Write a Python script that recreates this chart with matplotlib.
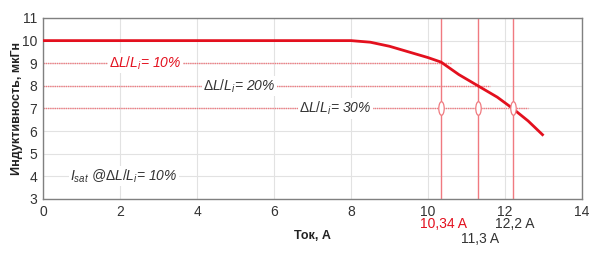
import matplotlib
matplotlib.use("Agg")
import matplotlib.pyplot as plt
from matplotlib.path import Path
from matplotlib.transforms import Affine2D

plt.rcParams['font.family'] = ['Liberation Sans', 'DejaVu Sans']
plt.rcParams['mathtext.fontset'] = 'custom'
plt.rcParams['mathtext.rm'] = 'Liberation Sans'
plt.rcParams['mathtext.it'] = 'Liberation Sans:italic'

# Data
curve_x = [0, 2, 4, 6, 8, 8.5, 9, 9.5, 10, 10.34, 10.8, 11.3, 11.8, 12.2, 12.6, 13]
curve_y = [10, 10, 10, 10, 10, 9.93, 9.75, 9.5, 9.25, 9.05, 8.5, 8.0, 7.5, 7.0, 6.45, 5.8]
levels = [9, 8, 7]
level_ends = [10.6, 11.6, 12.6]
sat_currents = [10.34, 11.3, 12.2]
sat_labels = ['10,34 A', '11,3 A', '12,2 A']
level_labels = ['$ΔL/L_i$= 10%', '$ΔL/L_i$= 20%', '$ΔL/L_i$= 30%']
level_label_x = [2.65, 5.1, 7.6]

red = '#e3101e'
light = '#f07a80'

fig = plt.figure(figsize=(6, 2.57), dpi=100)
ax = fig.add_axes([0.0717, 0.2257, 0.8983, 0.7043])
ax.set_xlim(0, 14)
ax.set_ylim(3, 11)
ax.set_xticks(range(0, 15, 2))
ax.set_yticks(range(3, 12))
ax.grid(True, color='#e2e2e2', linewidth=0.8)
ax.set_axisbelow(True)
for s in ax.spines.values():
    s.set_color('#808080')
    s.set_linewidth(1.0)
ax.tick_params(length=0, labelsize=10, colors='#333333', pad=4)

for lv, xe in zip(levels, level_ends):
    ax.plot([0, xe], [lv, lv], color=light, linestyle=(0, (1, 0.6)), linewidth=1.0, zorder=2)
for xc in sat_currents:
    ax.axvline(xc, color=light, linewidth=1.0, zorder=2)

ax.plot(curve_x, curve_y, color=red, linewidth=2.0, zorder=4, solid_capstyle='butt')

ell = Path.unit_circle().transformed(Affine2D().scale(0.4, 1.0))
ax.scatter(sat_currents, [7] * 3, marker=ell, s=95, facecolor='white', edgecolor=light, linewidth=0.9, zorder=5)

bbox = dict(facecolor='white', edgecolor='none', pad=1)
cols = [red, '#333333', '#333333']
for lx, lv, lt, c in zip(level_label_x, levels, level_labels, cols):
    ax.text(lx, lv, lt, color=c, fontsize=10, style='italic', ha='center', va='center', bbox=bbox, zorder=3)
ax.text(2.1, 4, '$I_{sat}$ @$ΔL/L_i$= 10%', color='#333333', fontsize=10, style='italic',
        ha='center', va='center', bbox=bbox, zorder=3)

ax.set_ylabel('Индуктивность, мкГн', fontsize=9, fontweight='bold', color='#222222')
ax.yaxis.set_label_coords(-0.038, 0.5)
ax.set_xlabel('Ток, А', fontsize=9, fontweight='bold', color='#222222', labelpad=8)

label_y = [-0.10, -0.18, -0.10]
label_c = [red, '#333333', '#333333']
for xc, lt, yy, c in zip(sat_currents, sat_labels, label_y, label_c):
    ax.text(xc + 0.05, yy, lt, transform=ax.get_xaxis_transform(), color=c, fontsize=10,
            ha='center', va='top')

fig.savefig('out.png', dpi=100)
